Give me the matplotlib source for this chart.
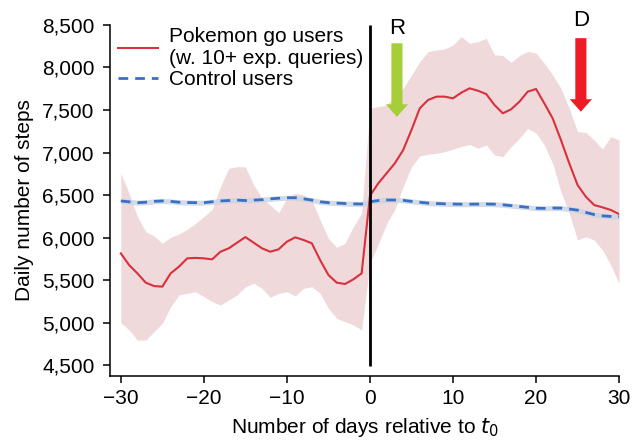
import numpy as np
import matplotlib
matplotlib.use('Agg')
from matplotlib import pyplot as plt
from matplotlib.ticker import StrMethodFormatter

plt.rcParams['font.family'] = ['Liberation Sans', 'DejaVu Sans']

# Tage relativ zu t0
days = np.arange(-30, 31)

# Pokemon go Nutzer: Mittelwert und Band
poke_mean = [5814, 5676, 5578, 5469, 5429, 5422, 5578, 5657, 5755, 5760,
             5755, 5743, 5833, 5873, 5939, 6005, 5939, 5873, 5833, 5861,
             5951, 6002, 5971, 5932, 5735, 5559, 5469, 5453, 5508, 5578,
             6490, 6637, 6755, 6873, 7029, 7265, 7520, 7618, 7657, 7657,
             7637, 7704, 7755, 7727, 7688, 7559, 7461, 7508, 7598, 7716,
             7747, 7578, 7402, 7147, 6873, 6618, 6480, 6382, 6355, 6324,
             6276]
poke_upper = [6755, 6520, 6245, 6069, 6018, 5932, 6002, 6041, 6096, 6167,
              6245, 6331, 6598, 6814, 6833, 6830, 6618, 6461, 6382, 6292,
              6461, 6520, 6500, 6441, 6206, 5990, 5884, 5932, 6127, 6284,
              7520, 7540, 7560, 7657, 7755, 7912, 8069, 8186, 8206, 8218,
              8265, 8363, 8284, 8304, 8343, 8150, 8140, 8060, 8140, 8190,
              8170, 8049, 7912, 7755, 7520, 7245, 7235, 7147, 7040, 7186,
              7147]
poke_lower = [4998, 4912, 4794, 4794, 4892, 4990, 5186, 5324, 5343, 5363,
              5304, 5245, 5206, 5265, 5324, 5420, 5461, 5402, 5296, 5343,
              5363, 5312, 5402, 5422, 5343, 5167, 5049, 5010, 4971, 4912,
              5700, 5920, 6160, 6330, 6600, 6830, 6960, 6980, 6990, 7010,
              7040, 7069, 7095, 7049, 7090, 6971, 6951, 7069, 7167, 7284,
              7230, 7088, 6873, 6539, 6284, 5971, 6010, 5971, 5853, 5676,
              5461]

# Kontrollgruppe
ctrl_mean = [6430, 6420, 6410, 6415, 6425, 6430, 6425, 6415, 6412, 6410,
             6410, 6420, 6430, 6435, 6440, 6435, 6440, 6445, 6455, 6462,
             6468, 6468, 6455, 6440, 6420, 6410, 6405, 6400, 6396, 6394,
             6420, 6435, 6441, 6441, 6437, 6425, 6415, 6405, 6400, 6396,
             6394, 6392, 6392, 6393, 6394, 6392, 6385, 6375, 6365, 6355,
             6345, 6343, 6347, 6346, 6335, 6322, 6295, 6270, 6255, 6248,
             6245]
ctrl_err = 30

yticks = [4500, 5000, 5500, 6000, 6500, 7000, 7500, 8000, 8500]
xticks = [-30, -20, -10, 0, 10, 20, 30]

fig = plt.figure(figsize=(6.33, 4.44), dpi=100)
ax = fig.add_axes([0.1738, 0.153, 0.978 - 0.1738, 0.9437 - 0.153])

ctrl = np.array(ctrl_mean)
ax.fill_between(days, poke_lower, poke_upper, color='#efd9db', lw=0)
ax.fill_between(days, ctrl - ctrl_err, ctrl + ctrl_err, color='#c9d3e3', lw=0, alpha=0.8)
ax.plot(days, poke_mean, color='#d8313c', lw=1.5, label='Pokemon go users\n(w. 10+ exp. queries)')
ax.plot(days, ctrl_mean, color='#3a70c4', lw=2, ls=(0, (3.5, 2.5)), label='Control users')
ax.vlines(0, 4490, 8500, color='black', lw=2)

# Pfeile R und D
ax.annotate('', xy=(3.25, 7420), xytext=(3.25, 8285),
            arrowprops=dict(arrowstyle='simple,head_length=0.9,head_width=1.6,tail_width=0.8',
                            color='#a6ce39', lw=0, shrinkA=0, shrinkB=0, mutation_scale=10))
ax.text(3.25, 8460, 'R', ha='center', va='center', fontsize=16)
ax.annotate('', xy=(25.4, 7480), xytext=(25.4, 8345),
            arrowprops=dict(arrowstyle='simple,head_length=0.9,head_width=1.6,tail_width=0.8',
                            color='#ed1c24', lw=0, shrinkA=0, shrinkB=0, mutation_scale=10))
ax.text(25.4, 8555, 'D', ha='center', va='center', fontsize=16, clip_on=False)

ax.set_xlim(-31.3, 30)
ax.set_ylim(4370, 8500)
ax.set_xticks(xticks)
ax.set_yticks(yticks)
ax.yaxis.set_major_formatter(StrMethodFormatter('{x:,.0f}'))
ax.spines['top'].set_visible(False)
ax.spines['right'].set_visible(False)
for s in ['left', 'bottom']:
    ax.spines[s].set_linewidth(1.1)
ax.tick_params(direction='out', length=5, width=1.1, labelsize=15)
ax.tick_params(axis='y', pad=6)
ax.tick_params(axis='x', pad=4)

ax.set_xlabel('Number of days relative to $t_0$', fontsize=15, labelpad=6)
ax.set_ylabel('Daily number of steps', fontsize=15, labelpad=6)

ax.legend(loc='upper left', bbox_to_anchor=(0.0, 1.018), frameon=False,
          fontsize=15, handlelength=1.9, handletextpad=0.55,
          labelspacing=0.1, borderaxespad=0)

fig.savefig('out.png', dpi=100)
